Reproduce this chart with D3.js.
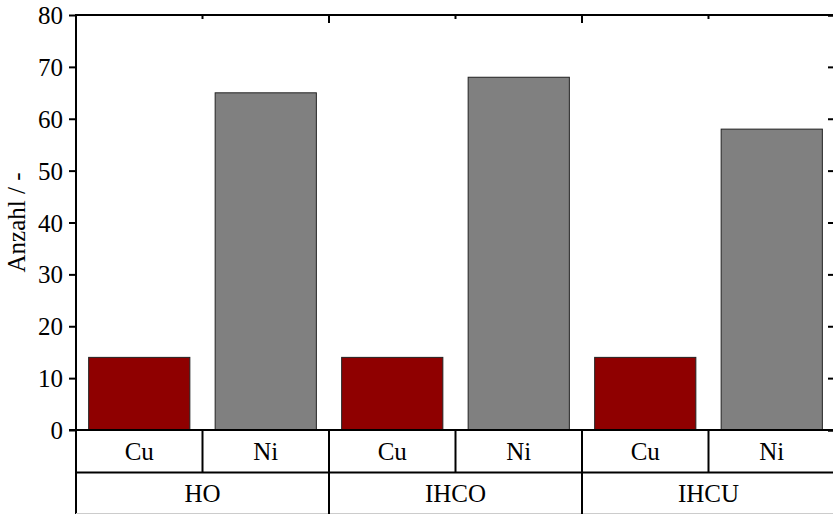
<!DOCTYPE html>
<html>
<head>
<meta charset="utf-8">
<script src="https://cdn.jsdelivr.net/npm/d3@7"></script>
<style>
  html, body { margin: 0; padding: 0; background: #fff; }
  svg { display: block; }
  text { font-family: "Liberation Serif", "Times New Roman", serif; fill: #000; }
</style>
</head>
<body>
<svg id="chart" width="833" height="515"></svg>
<script>
// Counts per sample group and metal
const groups = ["HO", "IHCO", "IHCU"];
const metals = ["Cu", "Ni"];
const cuValues = [14, 14, 14];
const niValues = [65, 68, 58];
const yTicks = [0, 10, 20, 30, 40, 50, 60, 70, 80];
const yLabel = "Anzahl / -";

const colors = { Cu: "#8f0000", Ni: "#808080" };

const rows = [];
groups.forEach((g, i) => {
  rows.push({ group: g, metal: "Cu", value: cuValues[i] });
  rows.push({ group: g, metal: "Ni", value: niValues[i] });
});

const svg = d3.select("#chart");
const plotLeft = 76, plotRight = 835, plotTop = 15, plotBottom = 430;
const row1 = 472.5, row2 = 514;

const x = d3.scaleBand()
  .domain(rows.map(d => d.group + "|" + d.metal))
  .range([plotLeft, plotRight])
  .paddingInner(0.2)
  .paddingOuter(0.1);
const step = x.step();
const binStart = key => x(key) - x.paddingOuter() * step;

const y = d3.scaleLinear().domain([0, 80]).range([plotBottom, plotTop]);

// bars
svg.append("g").selectAll("rect")
  .data(rows)
  .join("rect")
  .attr("x", d => x(d.group + "|" + d.metal))
  .attr("y", d => y(d.value))
  .attr("width", x.bandwidth())
  .attr("height", d => y(0) - y(d.value))
  .attr("fill", d => colors[d.metal])
  .attr("stroke", "#222")
  .attr("stroke-width", 1);

// left axis
const yAxis = d3.axisLeft(y).tickValues(yTicks).tickSize(7).tickPadding(6).tickFormat(d3.format("d"));
const gy = svg.append("g").attr("transform", `translate(${plotLeft},0)`).call(yAxis);
gy.select(".domain").remove();
gy.selectAll(".tick line").attr("stroke", "#000").attr("stroke-width", 2);
gy.selectAll(".tick text").attr("font-size", 25).attr("dy", "0.34em")
  .style("font-family", "'Liberation Serif', serif");

// right axis (inward ticks)
const gr = svg.append("g").attr("transform", `translate(${plotRight},0)`)
  .call(d3.axisLeft(y).tickValues(yTicks).tickSize(7).tickFormat(""));
gr.select(".domain").attr("stroke", "#000").attr("stroke-width", 2);
gr.selectAll(".tick line").attr("stroke", "#000").attr("stroke-width", 2);

// frame lines
svg.append("line").attr("x1", plotLeft).attr("x2", plotRight).attr("y1", plotTop).attr("y2", plotTop)
  .attr("stroke", "#000").attr("stroke-width", 2);
svg.append("line").attr("x1", plotLeft).attr("x2", plotLeft).attr("y1", plotTop - 1).attr("y2", row2)
  .attr("stroke", "#000").attr("stroke-width", 2);
svg.append("line").attr("x1", plotLeft - 7).attr("x2", plotRight).attr("y1", plotBottom).attr("y2", plotBottom)
  .attr("stroke", "#000").attr("stroke-width", 2);

// top ticks at category boundaries
const boundaries = rows.slice(1).map(d => ({
  x: binStart(d.group + "|" + d.metal),
  major: d.metal === metals[0]
}));
svg.append("g").selectAll("line")
  .data(boundaries)
  .join("line")
  .attr("x1", d => d.x).attr("x2", d => d.x)
  .attr("y1", plotTop).attr("y2", d => plotTop + (d.major ? 8 : 4))
  .attr("stroke", "#000").attr("stroke-width", 2);

// category table below the plot
svg.append("line").attr("x1", plotLeft).attr("x2", plotRight).attr("y1", row1).attr("y2", row1)
  .attr("stroke", "#000").attr("stroke-width", 2);
svg.append("line").attr("x1", plotLeft).attr("x2", plotRight).attr("y1", row2 - 0.5).attr("y2", row2 - 0.5)
  .attr("stroke", "#ccc").attr("stroke-width", 1);

svg.append("g").selectAll("line")
  .data(boundaries)
  .join("line")
  .attr("x1", d => d.x).attr("x2", d => d.x)
  .attr("y1", plotBottom).attr("y2", d => d.major ? row2 : row1)
  .attr("stroke", "#000").attr("stroke-width", 2);

svg.append("g").selectAll("text")
  .data(rows)
  .join("text")
  .attr("x", d => binStart(d.group + "|" + d.metal) + step / 2)
  .attr("y", (plotBottom + row1) / 2)
  .attr("dy", "0.35em")
  .attr("text-anchor", "middle")
  .attr("font-size", 25)
  .text(d => d.metal);

svg.append("g").selectAll("text")
  .data(groups)
  .join("text")
  .attr("x", g => binStart(g + "|" + metals[0]) + step)
  .attr("y", (row1 + row2) / 2)
  .attr("dy", "0.35em")
  .attr("text-anchor", "middle")
  .attr("font-size", 25)
  .text(g => g);

// y axis title
svg.append("text")
  .attr("transform", `translate(25,${(plotTop + plotBottom) / 2}) rotate(-90)`)
  .attr("text-anchor", "middle")
  .attr("font-size", 25)
  .text(yLabel);
</script>
</body>
</html>
